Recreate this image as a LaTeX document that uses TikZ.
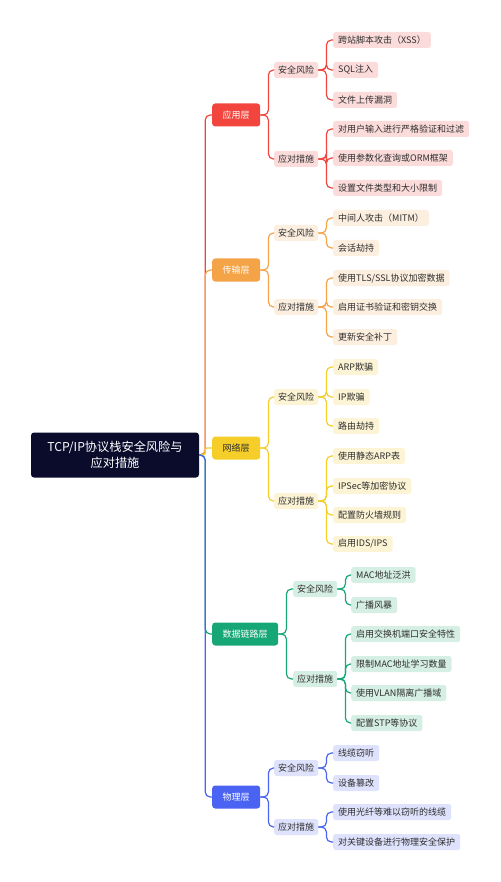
\documentclass[tikz,border=0pt]{standalone}
\usepackage{fontspec}
\setmainfont{Noto Sans CJK SC}
\definecolor{cNavy}{HTML}{0B0B2C}
\definecolor{cRed}{HTML}{F2453D}
\definecolor{lRed}{HTML}{FBDCDB}
\definecolor{cOrange}{HTML}{F4A347}
\definecolor{lOrange}{HTML}{FDEFE0}
\definecolor{cYellow}{HTML}{F5CE2A}
\definecolor{lYellow}{HTML}{FCF4D4}
\definecolor{cGreen}{HTML}{17A776}
\definecolor{lGreen}{HTML}{D6EFE4}
\definecolor{cBlue}{HTML}{4B63F2}
\definecolor{lBlue}{HTML}{DEE2FC}
\definecolor{txt}{HTML}{2E2E2E}
\begin{document}
\begin{tikzpicture}[x=1pt,y=-1pt,
    every node/.style={font=\fontsize{9}{11}\selectfont},
    root/.style={fill=cNavy,text=white,rounded corners=3pt,minimum width=168pt,minimum height=45pt,align=center,font=\fontsize{12.2}{16}\selectfont},
    layer/.style={fill=#1,text=white,rounded corners=3pt,minimum height=23pt,inner xsep=10.5pt,anchor=west},
    cat/.style={fill=#1,text=txt,rounded corners=2.5pt,minimum height=16pt,inner xsep=4pt,anchor=west},
    leaf/.style={fill=#1,text=txt,rounded corners=2.5pt,minimum height=16pt,inner xsep=5pt,anchor=west},
    link/.style={draw=#1,line width=1.2pt,rounded corners=5pt}]
    \useasboundingbox (0,0) rectangle (500,882);

    \node[root] (root) at (115,455) {TCP/IP协议栈安全风险与\\应对措施};

    % 应用层
    \node[layer=cRed] (app) at (212,115) {应用层};
    \node[cat=lRed] (appR) at (274,70) {安全风险};
    \node[cat=lRed] (appM) at (274,159) {应对措施};
    \node[leaf=lRed] (appR1) at (333,40) {跨站脚本攻击（XSS）};
    \node[leaf=lRed] (appR2) at (333,70) {SQL注入};
    \node[leaf=lRed] (appR3) at (333,100) {文件上传漏洞};
    \node[leaf=lRed] (appM1) at (333,129) {对用户输入进行严格验证和过滤};
    \node[leaf=lRed] (appM2) at (333,158) {使用参数化查询或ORM框架};
    \node[leaf=lRed] (appM3) at (333,188) {设置文件类型和大小限制};

    % 传输层
    \node[layer=cOrange] (tra) at (212,270) {传输层};
    \node[cat=lOrange] (traR) at (274,233) {安全风险};
    \node[cat=lOrange] (traM) at (274,307) {应对措施};
    \node[leaf=lOrange] (traR1) at (333,218) {中间人攻击（MITM）};
    \node[leaf=lOrange] (traR2) at (333,248) {会话劫持};
    \node[leaf=lOrange] (traM1) at (333,278) {使用TLS/SSL协议加密数据};
    \node[leaf=lOrange] (traM2) at (333,307) {启用证书验证和密钥交换};
    \node[leaf=lOrange] (traM3) at (333,337) {更新安全补丁};

    % 网络层
    \node[layer=cYellow,text=txt] (net) at (212,448) {网络层};
    \node[cat=lYellow] (netR) at (274,397) {安全风险};
    \node[cat=lYellow] (netM) at (274,501) {应对措施};
    \node[leaf=lYellow] (netR1) at (333,367) {ARP欺骗};
    \node[leaf=lYellow] (netR2) at (333,397) {IP欺骗};
    \node[leaf=lYellow] (netR3) at (333,426) {路由劫持};
    \node[leaf=lYellow] (netM1) at (333,456) {使用静态ARP表};
    \node[leaf=lYellow] (netM2) at (333,486) {IPSec等加密协议};
    \node[leaf=lYellow] (netM3) at (333,515) {配置防火墙规则};
    \node[leaf=lYellow] (netM4) at (333,544) {启用IDS/IPS};

    % 数据链路层
    \node[layer=cGreen] (dl) at (212,634) {数据链路层};
    \node[cat=lGreen] (dlR) at (293,589) {安全风险};
    \node[cat=lGreen] (dlM) at (293,679) {应对措施};
    \node[leaf=lGreen] (dlR1) at (351,575) {MAC地址泛洪};
    \node[leaf=lGreen] (dlR2) at (351,605) {广播风暴};
    \node[leaf=lGreen] (dlM1) at (351,634) {启用交换机端口安全特性};
    \node[leaf=lGreen] (dlM2) at (351,664) {限制MAC地址学习数量};
    \node[leaf=lGreen] (dlM3) at (351,693) {使用VLAN隔离广播域};
    \node[leaf=lGreen] (dlM4) at (351,723) {配置STP等协议};

    % 物理层
    \node[layer=cBlue] (phy) at (212,797) {物理层};
    \node[cat=lBlue] (phyR) at (274,768) {安全风险};
    \node[cat=lBlue] (phyM) at (274,827) {应对措施};
    \node[leaf=lBlue] (phyR1) at (333,753) {线缆窃听};
    \node[leaf=lBlue] (phyR2) at (333,783) {设备篡改};
    \node[leaf=lBlue] (phyM1) at (333,812) {使用光纤等难以窃听的线缆};
    \node[leaf=lBlue] (phyM2) at (333,842) {对关键设备进行物理安全保护};

    % root to layers
    \draw[link=cRed] (root.east) -- ([xshift=6pt]root.east) |- (app.west);
    \draw[link=cOrange] (root.east) -- ([xshift=6pt]root.east) |- (tra.west);
    \draw[link=cYellow,rounded corners=2pt] (root.east) -- ([xshift=6pt]root.east) |- (net.west);
    \draw[link=cGreen] (root.east) -- ([xshift=6pt]root.east) |- (dl.west);
    \draw[link=cBlue] (root.east) -- ([xshift=6pt]root.east) |- (phy.west);

    % layers to categories
    \foreach \l/\c in {app/cRed,tra/cOrange,net/cYellow,dl/cGreen,phy/cBlue}
        \foreach \k in {R,M}
            \draw[link=\c] (\l.east) -- ([xshift=8pt]\l.east) |- (\l\k.west);

    % categories to leaves
    \foreach \p/\n/\c in {appR/1/cRed,appR/2/cRed,appR/3/cRed,appM/1/cRed,appM/2/cRed,appM/3/cRed,
        traR/1/cOrange,traR/2/cOrange,traM/1/cOrange,traM/2/cOrange,traM/3/cOrange,
        netR/1/cYellow,netR/2/cYellow,netR/3/cYellow,netM/1/cYellow,netM/2/cYellow,netM/3/cYellow,netM/4/cYellow,
        dlR/1/cGreen,dlR/2/cGreen,dlM/1/cGreen,dlM/2/cGreen,dlM/3/cGreen,dlM/4/cGreen,
        phyR/1/cBlue,phyR/2/cBlue,phyM/1/cBlue,phyM/2/cBlue}
        \draw[link=\c] (\p.east) -- ([xshift=8pt]\p.east) |- (\p\n.west);
\end{tikzpicture}
\end{document}
